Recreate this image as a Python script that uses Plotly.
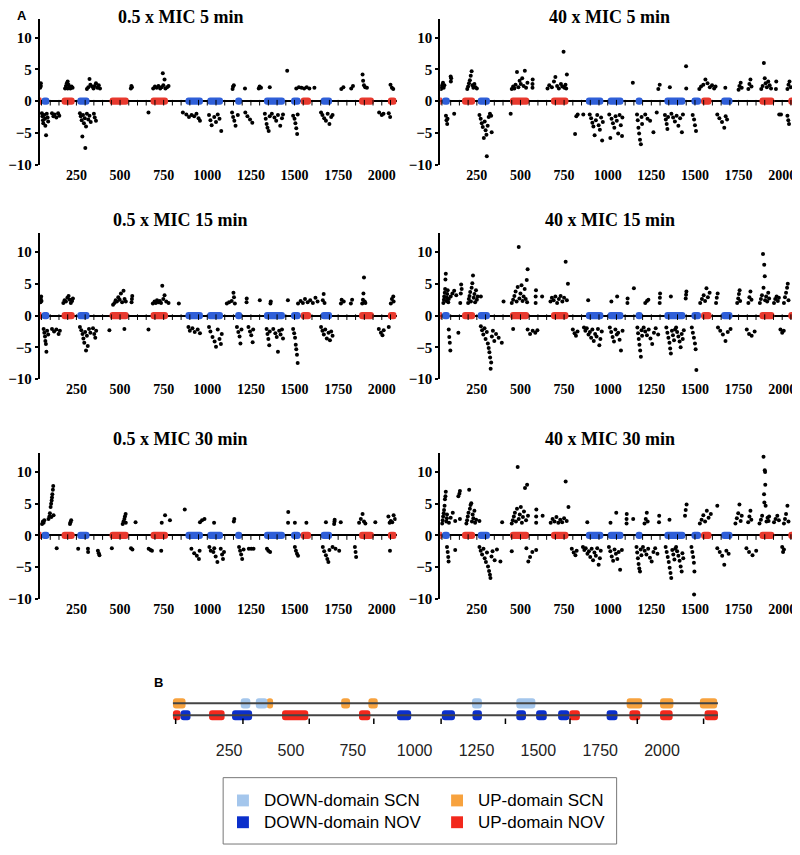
import numpy as np
import plotly.graph_objects as go

# ---------------- data ----------------
panel_titles = ["0.5 x MIC 5 min", "40 x MIC 5 min",
                "0.5 x MIC 15 min", "40 x MIC 15 min",
                "0.5 x MIC 30 min", "40 x MIC 30 min"]

x_tick_vals = [250, 500, 750, 1000, 1250, 1500, 1750, 2000]
y_tick_vals = [-10, -5, 0, 5, 10]

p05_5min = [
    (42, 2.1), (44, 2.5), (46, 2.8), (45, 2.3),
    (185, 2.0), (190, 2.4), (195, 2.8), (200, 3.1), (205, 2.6), (210, 2.2), (215, 2.0), (222, 2.3), (228, 2.1), (200, 2.0),
    (310, 1.9), (318, 2.2), (325, 3.5), (330, 2.6), (340, 2.3), (348, 2.0), (355, 2.4), (362, 2.8), (370, 2.1), (378, 2.5), (385, 2.0),
    (562, 2.0), (565, 2.4), (568, 2.2),
    (690, 2.0), (700, 2.3), (710, 2.1), (720, 2.4), (730, 2.0), (738, 2.2), (745, 4.4), (748, 2.5), (755, 3.4), (760, 2.0), (770, 2.2), (778, 2.4),
    (1145, 1.9), (1148, 2.3), (1152, 2.5), (1216, 2.0), (1295, 2.0), (1300, 2.3), (1308, 2.1), (1358, 2.2), (1458, 4.8),
    (1510, 2.0), (1525, 2.2), (1540, 2.1), (1555, 2.0), (1570, 2.2), (1585, 2.0), (1614, 2.1),
    (1768, 1.9), (1780, 2.2), (1825, 2.0), (1835, 2.4),
    (1890, 4.2), (1893, 3.2), (1898, 2.5), (1905, 2.2), (1915, 2.1), (2050, 2.6), (2058, 2.1), (2066, 1.9),
    (52, -1.9), (55, -2.4), (58, -3.0), (60, -3.5), (65, -2.2), (70, -2.8), (72, -3.9), (76, -5.4), (80, -2.0), (85, -2.6), (88, -3.2),
    (110, -1.9), (118, -2.4), (125, -2.1), (135, -2.6), (145, -1.9), (152, -2.3),
    (270, -1.9), (275, -2.4), (280, -3.0), (284, -5.6), (288, -2.2), (293, -3.5), (298, -2.7), (301, -7.4), (305, -4.0), (310, -2.0), (318, -2.9), (325, -2.3), (332, -3.3),
    (350, -2.0), (355, -2.6), (362, -3.1), (663, -1.8),
    (860, -1.8), (880, -2.1), (895, -2.5), (910, -2.2), (925, -2.4), (938, -2.0), (950, -2.7), (958, -3.1),
    (1010, -2.2), (1018, -3.0), (1025, -3.8), (1040, -2.5), (1050, -3.3), (1060, -2.1), (1070, -2.8), (1080, -4.7),
    (1142, -1.8), (1148, -2.5), (1155, -3.1), (1162, -3.9), (1175, -2.2),
    (1218, -1.8), (1230, -2.4), (1245, -2.9), (1258, -3.4),
    (1330, -2.0), (1335, -2.8), (1340, -3.6), (1345, -4.2), (1352, -4.7), (1358, -2.4),
    (1370, -2.0), (1385, -2.6), (1395, -3.1), (1405, -2.2), (1418, -3.9), (1428, -2.7), (1434, -2.1),
    (1492, -2.3), (1500, -2.8), (1505, -3.5), (1510, -4.3), (1515, -5.2), (1518, -2.1),
    (1652, -1.8), (1660, -2.2), (1670, -2.7), (1680, -3.1), (1690, -2.0), (1700, -3.6), (1710, -2.5), (1718, -2.2),
    (1985, -1.8), (2000, -2.2), (2010, -2.0), (2040, -1.9), (2048, -2.5),
]

p40_5min = [
    (45, 1.9), (48, 2.3), (52, 2.6), (56, 2.9), (60, 2.1), (64, 2.5), (101, 3.1), (103, 3.6), (100, 3.9),
    (195, 1.9), (200, 2.3), (205, 2.8), (210, 3.3), (215, 4.0), (220, 4.7), (225, 2.5), (230, 2.1), (236, 2.7), (242, 2.2), (250, 2.0),
    (450, 1.9), (458, 2.3), (465, 2.0), (472, 2.6), (480, 4.6), (488, 2.2), (495, 3.2), (502, 2.7), (510, 3.6), (518, 2.4), (525, 4.8), (532, 2.1), (540, 2.9),
    (569, 2.1), (569, 2.7), (570, 3.4),
    (655, 2.0), (665, 2.5), (680, 2.2), (692, 3.1), (700, 3.8), (710, 2.4), (720, 2.0), (732, 2.7), (740, 2.3), (747, 7.8), (752, 2.1), (758, 2.6), (766, 4.2), (762, 2.0),
    (1144, 2.9), (1290, 1.9), (1298, 2.6), (1356, 2.2), (1449, 5.5), (1450, 2.0),
    (1525, 1.9), (1535, 2.3), (1548, 2.6), (1560, 3.4), (1572, 2.8), (1585, 2.2), (1598, 2.5), (1610, 2.0), (1618, 2.3), (1674, 2.1),
    (1750, 1.8), (1755, 2.4), (1762, 2.9), (1768, 2.1), (1806, 1.9), (1812, 2.7), (1818, 3.4), (1824, 2.3),
    (1880, 1.9), (1888, 2.4), (1895, 6.0), (1900, 3.6), (1905, 2.8), (1912, 2.2), (1920, 3.1), (1928, 2.5), (1936, 2.0),
    (1964, 1.9), (1966, 3.1), (2030, 1.9), (2036, 2.6), (2042, 3.1), (2049, 2.2),
    (73, -2.3), (76, -3.0), (80, -3.6), (82, -2.8), (120, -2.0),
    (265, -2.2), (272, -2.8), (278, -3.5), (284, -4.1), (290, -5.8), (295, -3.2), (300, -4.6), (305, -5.3), (307, -8.7), (312, -3.9), (318, -2.5), (325, -2.0), (332, -2.3), (335, -4.9),
    (444, -2.0), (813, -5.2), (820, -2.4), (828, -2.1), (860, -2.1),
    (897, -2.1), (905, -2.7), (912, -3.4), (918, -4.0), (925, -5.4), (932, -3.0), (940, -2.2), (948, -3.8), (955, -4.5), (962, -2.6), (968, -6.2), (972, -3.3),
    (1009, -2.1), (1015, -5.8), (1022, -2.8), (1030, -3.5), (1038, -4.2), (1045, -2.4), (1052, -3.1), (1060, -5.1), (1068, -2.2), (1075, -3.8), (1082, -5.5), (1084, -2.6),
    (1168, -2.1), (1172, -3.0), (1176, -4.2), (1180, -5.1), (1185, -6.1), (1190, -6.8), (1194, -2.5), (1197, -3.6),
    (1215, -2.1), (1228, -2.8), (1243, -3.1), (1262, -4.9), (1281, -1.8),
    (1328, -2.2), (1333, -2.9), (1338, -3.6), (1342, -4.4), (1346, -2.5),
    (1365, -2.0), (1375, -2.6), (1385, -3.2), (1395, -2.3), (1405, -3.9), (1415, -2.7), (1425, -4.9), (1431, -2.1),
    (1487, -2.2), (1495, -2.9), (1500, -3.8), (1506, -4.7),
    (1628, -2.1), (1640, -2.7), (1655, -3.3), (1668, -4.2), (1676, -2.4), (1684, -2.9),
    (1983, -2.1), (1993, -2.1), (2030, -2.3), (2035, -3.0), (2039, -3.6),
]

p05_15min = [
    (44, 2.1), (46, 2.6), (48, 3.0), (50, 2.3),
    (175, 2.0), (182, 2.4), (190, 2.2), (198, 2.8), (205, 3.1), (212, 2.5), (218, 2.0), (225, 2.3), (230, 2.7),
    (460, 1.7), (468, 2.0), (475, 2.4), (482, 2.2), (490, 2.9), (498, 2.5), (505, 3.5), (512, 2.1), (520, 3.9), (526, 2.6), (533, 2.2),
    (566, 2.1), (568, 2.6), (570, 3.1),
    (688, 1.9), (698, 2.2), (705, 2.0), (712, 2.4), (720, 2.1), (728, 2.3), (735, 2.0), (742, 4.7), (748, 2.6), (755, 3.2), (765, 2.2), (778, 2.0),
    (837, 1.9), (1112, 1.9), (1125, 2.1), (1140, 2.3), (1150, 3.6), (1153, 2.9), (1158, 1.9),
    (1225, 2.1), (1226, 2.7), (1301, 2.4), (1362, 1.9), (1364, 2.2), (1462, 2.4),
    (1520, 1.9), (1535, 2.3), (1548, 2.0), (1560, 2.6), (1575, 2.1), (1590, 2.4), (1605, 2.0), (1620, 2.8), (1632, 2.2),
    (1662, 2.4), (1667, 3.4), (1672, 2.0), (1766, 1.9), (1770, 2.5), (1782, 2.2), (1823, 1.9), (1830, 2.5),
    (1888, 1.9), (1892, 2.5), (1895, 3.5), (1898, 6.0), (1902, 2.2), (1906, 2.0),
    (2052, 1.9), (2058, 2.6), (2066, 3.0), (2068, 2.2),
    (62, -2.1), (66, -2.7), (70, -3.3), (72, -4.0), (75, -4.5), (78, -5.7), (82, -2.4), (88, -3.0),
    (110, -2.1), (122, -2.5), (135, -2.2), (148, -2.9), (155, -2.4),
    (270, -1.8), (278, -2.3), (285, -2.9), (290, -3.6), (295, -4.3), (300, -2.6), (305, -5.5), (310, -3.2), (315, -4.8), (322, -2.1), (330, -2.7), (345, -2.0), (352, -2.9), (358, -3.5), (363, -2.4),
    (439, -2.3), (525, -2.1), (663, -2.2),
    (892, -1.8), (900, -2.4), (915, -2.0), (928, -2.6), (945, -2.2), (958, -2.8),
    (1010, -1.8), (1018, -2.5), (1030, -3.4), (1042, -4.1), (1050, -4.9), (1060, -2.2), (1070, -3.7), (1078, -4.5), (1083, -2.9),
    (1170, -1.8), (1178, -2.6), (1185, -3.3), (1190, -4.4), (1196, -2.2),
    (1236, -1.8), (1245, -2.5), (1252, -3.1), (1260, -4.2), (1263, -2.2),
    (1340, -2.1), (1345, -2.9), (1350, -3.7), (1355, -4.7), (1358, -2.5),
    (1378, -2.1), (1390, -2.8), (1398, -3.4), (1405, -5.7), (1412, -2.4), (1420, -3.0), (1428, -2.2), (1434, -3.6),
    (1492, -2.1), (1498, -2.8), (1503, -3.5), (1507, -4.6), (1510, -5.3), (1514, -6.2), (1518, -7.5),
    (1652, -1.8), (1660, -2.4), (1668, -3.0), (1676, -2.2), (1685, -3.6), (1695, -2.7), (1703, -3.9), (1710, -2.5), (1718, -3.2),
    (1983, -2.1), (1995, -2.7), (2004, -3.1), (2011, -2.3), (2040, -1.8),
]

p40_15min = [
    (58, 2.0), (61, 2.5), (63, 3.0), (66, 3.6), (68, 4.2), (70, 5.7), (72, 6.6), (75, 2.3), (78, 2.8), (80, 3.4), (83, 4.0), (86, 2.1), (89, 2.6),
    (100, 3.0), (110, 3.5), (120, 3.9), (132, 3.2), (155, 2.0), (158, 3.5), (160, 4.9), (163, 4.2),
    (200, 2.0), (204, 2.6), (208, 3.1), (212, 3.7), (216, 2.2), (220, 4.4), (224, 5.1), (228, 6.3), (232, 2.8), (236, 3.4), (240, 2.1), (245, 4.0), (250, 2.5), (255, 3.0),
    (273, 3.0), (403, 2.2),
    (450, 2.0), (458, 2.5), (465, 3.1), (472, 3.8), (478, 2.2), (484, 4.5), (490, 10.8), (494, 2.7), (500, 3.5), (506, 4.8), (512, 2.3), (518, 3.0), (524, 4.2), (530, 2.6), (536, 5.6), (541, 7.3), (538, 2.1),
    (587, 2.0), (587, 3.0), (589, 4.0), (624, 3.0),
    (672, 2.2), (680, 2.8), (690, 2.4), (700, 3.0), (710, 2.0), (720, 2.6), (730, 3.1), (740, 2.2), (750, 2.8), (759, 8.5), (766, 2.4), (772, 5.0),
    (888, 2.4), (1021, 2.2), (1054, 3.0), (1113, 2.0), (1114, 2.7), (1150, 4.3),
    (1215, 2.0), (1225, 2.3), (1233, 2.5), (1298, 2.0), (1299, 2.8), (1300, 3.5), (1362, 3.0),
    (1447, 2.7), (1449, 3.3), (1451, 3.8),
    (1530, 2.0), (1540, 2.6), (1550, 3.2), (1558, 2.3), (1566, 4.3), (1574, 2.9), (1584, 3.6),
    (1621, 2.0), (1625, 2.8), (1630, 3.5),
    (1742, 2.0), (1748, 2.7), (1752, 3.4), (1756, 4.0), (1759, 2.3),
    (1806, 2.0), (1812, 2.9), (1818, 3.8), (1824, 2.5),
    (1872, 2.0), (1878, 2.6), (1884, 3.2), (1890, 9.7), (1893, 4.4), (1897, 8.0), (1900, 6.2), (1902, 2.4), (1908, 3.0), (1914, 2.2), (1920, 3.6), (1925, 2.7),
    (1953, 2.0), (1960, 2.6), (1968, 3.0), (1975, 2.3), (1981, 2.8),
    (2010, 2.0), (2016, 2.9), (2022, 3.6), (2028, 4.4), (2032, 5.0), (2036, 2.4),
    (89, -2.2), (92, -3.4), (95, -4.3), (98, -5.5), (144, -2.7),
    (273, -1.7), (280, -2.3), (287, -3.0), (294, -2.0), (300, -3.7), (307, -2.6), (313, -4.4), (318, -5.1), (322, -5.8), (326, -6.6), (329, -8.4), (332, -7.4), (336, -3.3), (342, -2.4), (350, -4.0), (360, -2.9), (375, -3.5), (393, -4.3),
    (458, -2.1), (541, -2.2), (555, -2.9), (570, -2.4), (585, -2.7), (597, -2.3),
    (800, -2.2), (810, -2.8), (818, -3.2), (827, -2.5),
    (864, -1.9), (872, -2.4), (880, -2.0), (890, -3.0), (898, -2.6), (905, -3.5), (912, -2.2), (920, -4.0), (928, -2.9), (936, -3.3), (944, -2.1), (952, -4.7), (958, -3.7), (966, -2.5),
    (1012, -1.9), (1020, -2.6), (1028, -3.4), (1036, -4.1), (1044, -2.2), (1052, -3.0), (1060, -2.7), (1068, -3.8), (1076, -5.5), (1085, -2.4),
    (1170, -1.9), (1174, -2.8), (1178, -3.7), (1182, -4.6), (1186, -5.5), (1190, -6.5), (1194, -2.3), (1197, -3.2),
    (1206, -1.9), (1215, -2.5), (1225, -3.1), (1235, -2.2), (1245, -3.6), (1255, -4.5), (1265, -2.7), (1275, -2.0), (1289, -3.0),
    (1336, -1.9), (1342, -2.7), (1348, -3.5), (1354, -4.3), (1358, -5.2), (1362, -6.0), (1368, -2.4), (1374, -3.1), (1380, -3.9), (1386, -2.2),
    (1392, -1.9), (1398, -2.6), (1405, -3.3), (1412, -4.1), (1418, -5.0), (1424, -2.9), (1430, -3.7), (1436, -2.3),
    (1482, -1.9), (1488, -2.7), (1494, -3.5), (1500, -4.4), (1504, -5.3), (1508, -8.6),
    (1632, -1.9), (1645, -2.4), (1660, -3.0), (1675, -4.0), (1688, -2.6), (1704, -2.1),
    (1797, -2.2), (1810, -2.9), (1825, -3.2), (1842, -2.5),
    (1990, -2.2), (2000, -2.7), (2009, -2.4),
]

p05_30min = [
    (53, 1.8), (58, 2.2), (66, 2.4), (62, 2.0),
    (90, 2.6), (95, 3.0), (98, 3.5), (102, 4.5), (105, 5.0), (108, 5.5), (110, 6.0), (112, 6.5), (115, 7.2), (117, 7.8), (119, 3.2), (106, 2.9),
    (213, 1.8), (216, 2.1), (220, 2.4),
    (515, 1.8), (520, 2.2), (525, 2.6), (528, 3.0), (532, 3.4), (533, 2.0),
    (589, 2.1), (739, 2.0), (758, 3.2), (786, 2.4), (871, 4.1),
    (958, 2.1), (970, 2.4), (984, 2.6), (1039, 2.0), (1152, 2.2), (1155, 2.6),
    (1463, 2.0), (1464, 3.7), (1502, 2.0), (1568, 2.0), (1680, 2.1),
    (1727, 1.8), (1729, 2.2), (1730, 2.5), (1765, 2.1),
    (1870, 2.0), (1880, 2.6), (1890, 3.4), (1898, 2.2), (1906, 1.9), (1963, 2.1),
    (2038, 3.0), (2045, 2.0), (2052, 2.3), (2060, 2.1), (2068, 3.2), (2076, 2.6),
    (137, -2.0), (260, -2.1), (316, -2.1), (317, -2.6),
    (373, -2.4), (378, -2.8), (382, -3.1), (453, -2.0), (563, -2.0), (571, -2.2),
    (664, -2.1), (675, -2.3), (683, -2.4), (736, -2.4),
    (909, -2.1), (925, -2.8), (940, -3.2), (952, -3.7), (956, -2.4),
    (1012, -1.8), (1020, -2.4), (1035, -2.6), (1048, -3.3), (1058, -4.2), (1040, -2.0),
    (1077, -2.1), (1085, -3.0), (1090, -3.7), (1096, -2.6),
    (1182, -1.8), (1188, -2.4), (1194, -3.0), (1200, -3.7), (1208, -2.2),
    (1238, -2.1), (1252, -2.1), (1265, -2.1), (1342, -2.1), (1350, -2.4), (1360, -2.6),
    (1502, -1.8), (1508, -2.4), (1514, -2.9), (1520, -3.2),
    (1662, -1.8), (1670, -2.5), (1680, -3.1), (1688, -3.7), (1694, -4.2), (1700, -2.3),
    (1718, -1.8), (1735, -2.1), (1756, -2.4),
    (1846, -1.8), (1850, -2.6), (1853, -3.4), (2047, -2.4),
]

p40_30min = [
    (51, 1.9), (54, 2.4), (57, 3.0), (60, 3.5), (62, 4.0), (65, 4.7), (67, 5.7), (70, 6.2), (72, 6.9), (75, 2.2), (78, 2.7), (79, 3.3),
    (90, 2.0), (100, 2.8), (112, 3.6), (126, 2.3), (144, 6.2), (150, 6.6), (153, 7.0), (153, 2.6),
    (190, 1.9), (194, 2.4), (198, 3.0), (202, 3.6), (206, 7.2), (210, 4.2), (214, 4.8), (218, 5.1), (222, 2.2), (226, 3.3), (230, 2.7), (236, 3.9), (240, 2.0), (246, 2.5),
    (265, 2.3), (395, 2.1),
    (450, 1.9), (456, 2.4), (462, 3.0), (468, 3.6), (474, 2.2), (480, 4.2), (484, 10.8), (490, 2.6), (496, 3.3), (502, 4.5), (508, 2.0), (514, 2.9), (520, 3.8), (526, 7.5), (532, 2.4), (538, 8.0), (543, 3.1),
    (590, 2.0), (590, 3.0), (591, 4.1), (627, 3.1),
    (673, 2.0), (684, 2.6), (695, 2.2), (706, 2.9), (717, 2.0), (728, 2.5), (739, 2.1), (750, 2.7), (759, 8.5), (765, 2.3), (775, 4.5),
    (883, 2.1), (1016, 2.0), (1049, 3.6), (1108, 1.9), (1108, 2.6), (1109, 3.4), (1146, 2.6),
    (1211, 1.9), (1218, 2.6), (1224, 3.6), (1229, 2.2), (1294, 2.1), (1295, 3.1), (1354, 2.5),
    (1443, 3.1), (1447, 4.0), (1452, 4.9),
    (1528, 1.9), (1538, 2.5), (1548, 3.2), (1558, 2.2), (1568, 3.9), (1578, 2.8), (1591, 3.4), (1628, 4.7),
    (1732, 1.9), (1740, 2.7), (1748, 3.5), (1755, 4.9), (1762, 2.3), (1768, 3.1),
    (1805, 2.1), (1812, 3.0), (1818, 3.9), (1823, 2.5),
    (1870, 1.9), (1878, 2.5), (1885, 3.1), (1893, 12.4), (1896, 6.5), (1898, 5.2), (1900, 10.3), (1902, 10.0), (1903, 8.0), (1905, 4.7), (1910, 2.2), (1916, 2.8), (1922, 2.3), (1925, 3.0),
    (1953, 2.1), (1962, 2.6), (1972, 3.1), (1981, 2.4),
    (2010, 1.9), (2016, 2.6), (2022, 3.4), (2030, 4.7), (2036, 2.2),
    (79, -1.8), (83, -2.6), (86, -3.4), (88, -4.1), (126, -2.3),
    (265, -1.8), (272, -2.4), (280, -3.0), (288, -2.1), (295, -3.6), (302, -4.2), (308, -2.7), (314, -4.9), (320, -5.6), (325, -6.2), (328, -6.7), (334, -3.3), (340, -2.5), (352, -3.9), (365, -2.2), (385, -4.1),
    (450, -2.5), (534, -2.0), (545, -4.1), (555, -3.4), (568, -2.6), (590, -2.3),
    (794, -2.1), (805, -2.7), (815, -3.1), (822, -2.4),
    (858, -1.8), (866, -2.3), (874, -2.0), (884, -2.9), (892, -2.5), (900, -3.4), (908, -2.1), (916, -3.9), (924, -2.7), (932, -3.2), (940, -2.0), (948, -4.6), (955, -3.6), (960, -2.4),
    (1007, -1.8), (1015, -2.5), (1023, -3.3), (1031, -4.0), (1039, -2.2), (1047, -2.9), (1055, -3.7), (1063, -2.6), (1071, -5.4), (1081, -2.3),
    (1165, -1.8), (1169, -2.7), (1173, -3.6), (1177, -4.5), (1181, -5.2), (1185, -5.7), (1189, -2.2), (1193, -3.1),
    (1202, -1.8), (1212, -2.4), (1222, -3.0), (1232, -2.1), (1242, -3.5), (1252, -4.1), (1262, -2.6), (1272, -2.0), (1285, -2.9),
    (1332, -1.8), (1338, -2.6), (1344, -3.4), (1350, -4.2), (1355, -5.1), (1360, -5.9), (1364, -6.7), (1370, -2.3), (1376, -3.0), (1382, -3.8), (1387, -2.1),
    (1392, -1.8), (1398, -2.5), (1405, -3.2), (1412, -4.0), (1418, -4.9), (1424, -5.7), (1428, -2.8), (1433, -3.6),
    (1480, -1.8), (1485, -2.6), (1490, -3.4), (1494, -4.3), (1497, -5.7), (1495, -9.3),
    (1628, -2.0), (1642, -2.6), (1656, -3.2), (1668, -4.6), (1680, -2.4), (1693, -2.9),
    (1795, -2.0), (1810, -2.6), (1830, -3.1), (1851, -2.4),
    (2000, -1.8), (2005, -2.6), (2010, -2.2),
]

panel_points = [p05_5min, p40_5min, p05_15min, p40_15min, p05_30min, p40_30min]

# domains shown on the zero line of panel A (genome positions)
a_up_start = [30, 165, 440, 675, 1535, 1870, 2035]
a_up_end = [50, 240, 550, 775, 1595, 1955, 2085]
a_down_start = [50, 255, 875, 1000, 1160, 1325, 1480, 1650]
a_down_end = [95, 325, 975, 1090, 1200, 1445, 1535, 1715]
zero_line_ticks = list(range(50, 2100, 50))

# panel B
b_backbone = [23, 2226]
b_scn_down_start = [297, 358, 1232, 1411]
b_scn_down_end = [336, 405, 1272, 1488]
b_scn_up_start = [23, 402, 703, 813, 1857, 1992, 2153]
b_scn_up_end = [74, 428, 739, 851, 1920, 2046, 2223]
b_nov_down_start = [54, 262, 929, 1110, 1234, 1411, 1491, 1580, 1776]
b_nov_down_end = [94, 343, 986, 1163, 1272, 1450, 1534, 1625, 1820]
b_nov_up_start = [23, 169, 464, 775, 1625, 1868, 1992, 2172]
b_nov_up_end = [54, 232, 570, 821, 1668, 1912, 2043, 2226]
b_tick_marks = [34, 306, 574, 835, 1107, 1367, 1628, 1900, 2168]

legend_labels = ["DOWN-domain SCN", "UP-domain SCN", "DOWN-domain NOV", "UP-domain NOV"]

# ---------------- styling ----------------
A_RED = "#e8392e"
A_BLUE = "#2f5fd8"
B_LIGHTBLUE = "#a4c6ec"
B_ORANGE = "#f7a23e"
B_DARKBLUE = "#0b2fcb"
B_RED = "#f2281c"
SERIF = "Liberation Serif"
SANS = "Liberation Sans"

# The page body has an 8px margin, so the figure occupies page pixels 8..800 x 8..855.
OFF = 8
W, H = 800 - OFF, 855 - OFF
def px_x(p):
    return (p - OFF) / W
def px_y(p):
    return 1 - (p - OFF) / H

col_dom = [[px_x(33), px_x(393)], [px_x(437), px_x(797)]]
row_pix = [(18.8, 166.0), (235.3, 382.5), (457.3, 604.5)]
title_y_pix = [17.5, 222, 443]
title_x_pix = [175, 608]

fig = go.Figure()

def add_segments(starts, ends, yval, width, color, xa, ya):
    s = np.array(starts, float)
    e = np.array(ends, float)
    fig.add_trace(go.Bar(orientation="h", base=s, x=e - s, y=[yval] * len(s),
                         width=width, marker=dict(color=color, line=dict(width=0)),
                         xaxis=xa, yaxis=ya, showlegend=False, hoverinfo="skip"))

layout = dict(width=W, height=H, margin=dict(l=0, r=0, t=0, b=0),
              plot_bgcolor="white", paper_bgcolor="white",
              showlegend=False, barmode="overlay", barcornerradius=3)
annotations = []
shapes = []

for i, pts in enumerate(panel_points):
    r, c = divmod(i, 2)
    n = i + 1
    xa = "x" if n == 1 else f"x{n}"
    ya = "y" if n == 1 else f"y{n}"
    xkey = "xaxis" if n == 1 else f"xaxis{n}"
    ykey = "yaxis" if n == 1 else f"yaxis{n}"
    top, bot = row_pix[r]
    layout[xkey] = dict(domain=col_dom[c], anchor=ya, range=[40, 2085],
                        showline=False, showgrid=False, zeroline=False, ticks="",
                        tickvals=x_tick_vals,
                        tickfont=dict(family=SERIF, size=14, color="black", weight="bold"))
    layout[ykey] = dict(domain=[px_y(bot), px_y(top)], anchor=xa, range=[-10, 13],
                        showline=True, linecolor="black", linewidth=2,
                        showgrid=False, zeroline=True, zerolinecolor="black", zerolinewidth=1.5,
                        ticks="outside", ticklen=3, tickwidth=1.5, tickcolor="black",
                        tickvals=y_tick_vals,
                        tickfont=dict(family=SERIF, size=15, color="black", weight="bold"))
    # small ticks on the zero line
    fig.add_trace(go.Scatter(x=zero_line_ticks, y=[-0.25] * len(zero_line_ticks), mode="markers",
                             marker=dict(symbol="line-ns", size=4, line=dict(width=1, color="black")),
                             xaxis=xa, yaxis=ya, showlegend=False, hoverinfo="skip"))
    add_segments(a_up_start, a_up_end, 0, 1.15, A_RED, xa, ya)
    add_segments(a_down_start, a_down_end, 0, 1.15, A_BLUE, xa, ya)
    fig.add_trace(go.Scatter(x=[p[0] for p in pts], y=[p[1] for p in pts], mode="markers",
                             marker=dict(symbol="circle", size=4, color="black", line=dict(width=0)),
                             xaxis=xa, yaxis=ya, showlegend=False, hoverinfo="skip"))
    annotations.append(dict(text=panel_titles[i], x=px_x(title_x_pix[c]), y=px_y(title_y_pix[r]),
                            xref="paper", yref="paper", showarrow=False, xanchor="center", yanchor="middle",
                            font=dict(family=SERIF, size=18, color="black", weight="bold")))

# ---- panel B ----
layout["xaxis7"] = dict(domain=[px_x(161.6), px_x(720.7)], anchor="y7", range=[0, 2240],
                        showline=False, showgrid=False, zeroline=False, ticks="",
                        tickvals=x_tick_vals,
                        tickfont=dict(family=SANS, size=16, color="#222"))
layout["yaxis7"] = dict(domain=[px_y(746), px_y(701.6)], anchor="x7", range=[-2.0, 1.7],
                        visible=False, showgrid=False, zeroline=False)

for yrow in (1, 0):
    fig.add_trace(go.Scatter(x=b_backbone, y=[yrow, yrow], mode="lines",
                             line=dict(color="#444444", width=2),
                             xaxis="x7", yaxis="y7", showlegend=False, hoverinfo="skip"))
fig.add_trace(go.Scatter(x=b_tick_marks, y=[-0.5] * len(b_tick_marks), mode="markers",
                         marker=dict(symbol="line-ns", size=4, line=dict(width=1.5, color="black")),
                         xaxis="x7", yaxis="y7", showlegend=False, hoverinfo="skip"))
add_segments(b_scn_up_start, b_scn_up_end, 1, 0.85, B_ORANGE, "x7", "y7")
add_segments(b_scn_down_start, b_scn_down_end, 1, 0.85, B_LIGHTBLUE, "x7", "y7")
add_segments(b_nov_up_start, b_nov_up_end, 0, 0.85, B_RED, "x7", "y7")
add_segments(b_nov_down_start, b_nov_down_end, 0, 0.85, B_DARKBLUE, "x7", "y7")

# panel letters
annotations.append(dict(text="A", x=px_x(8), y=px_y(16), xref="paper", yref="paper", showarrow=False,
                        xanchor="left", yanchor="middle",
                        font=dict(family=SANS, size=13, color="black", weight="bold")))
annotations.append(dict(text="B", x=px_x(146), y=px_y(689), xref="paper", yref="paper", showarrow=False,
                        xanchor="left", yanchor="middle",
                        font=dict(family=SANS, size=13, color="black", weight="bold")))

# legend box for panel B
shapes.append(dict(type="rect", xref="paper", yref="paper",
                   x0=px_x(218), x1=px_x(615), y0=px_y(852), y1=px_y(785),
                   line=dict(color="#777777", width=1), fillcolor="white"))
legend_colors = [B_LIGHTBLUE, B_ORANGE, B_DARKBLUE, B_RED]
legend_swatch_x = [232, 448, 232, 448]
legend_row_y = [808, 830]
for k, (lab, colr) in enumerate(zip(legend_labels, legend_colors)):
    sx = legend_swatch_x[k]
    cy = legend_row_y[k // 2]
    shapes.append(dict(type="rect", xref="paper", yref="paper",
                       x0=px_x(sx), x1=px_x(sx + 12), y0=px_y(cy + 6), y1=px_y(cy - 6),
                       line=dict(width=0), fillcolor=colr))
    annotations.append(dict(text=lab, x=px_x(sx + 25), y=px_y(cy), xref="paper", yref="paper",
                            showarrow=False, xanchor="left", yanchor="middle",
                            font=dict(family=SANS, size=17, color="black")))

layout["annotations"] = annotations
layout["shapes"] = shapes
fig.update_layout(**layout)

fig.write_html("out.html")
